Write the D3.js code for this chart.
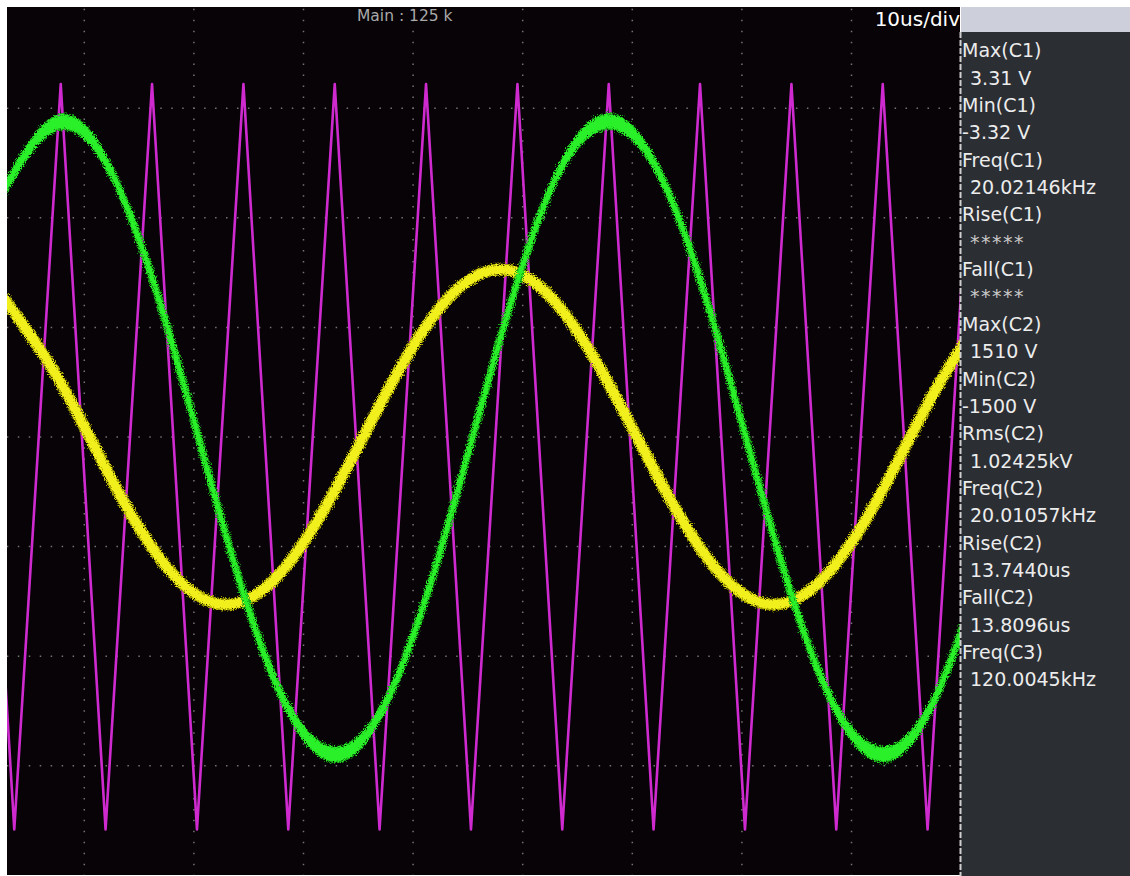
<!DOCTYPE html>
<html>
<head>
<meta charset="utf-8">
<script src="https://cdn.jsdelivr.net/npm/d3@7"></script>
<style>
  html, body { margin: 0; padding: 0; background: #ffffff; }
  svg { display: block; }
  text { font-family: "DejaVu Sans", Verdana, sans-serif; }
</style>
</head>
<body>
<svg id="scope" width="1130" height="876"></svg>
<script>
// ---- acquisition data -------------------------------------------------
// sample instants (µs) for the two sine channels
const sampleTimes = [-7.5, -2.5, 2.5, 7.5, 12.5, 17.5, 22.5, 27.5, 32.5, 37.5,
                     42.5, 47.5, 52.5, 57.5, 62.5, 67.5, 72.5, 77.5, 82.5];
// C1 (green) in volts
const c1Volts = [2.49, 3.21, 2.70, 1.15, -0.84, -2.52, -3.24, -2.72, -1.16, 0.83,
                 2.52, 3.22, 2.69, 1.13, -0.86, -2.53, -3.24, -2.70, -1.14];
// C2 (yellow) in volts
const c2Volts = [1209, 521, -366, -1113, -1435, -1207, -519, 368, 1115, 1435,
                 1206, 516, -371, -1116, -1435, -1204, -513, 375, 1123];
// C3 (magenta) triangle turning points: time (µs) and level (div)
const c3Times = [-10.48, -6.39, -2.15, 1.94, 6.18, 10.28, 14.52, 18.61, 22.85, 26.94,
                 31.18, 35.28, 39.52, 43.61, 47.85, 51.94, 56.18, 60.28, 64.52, 68.61,
                 72.85, 76.94, 81.18];
const c3Levels = [3.22, -3.58, 3.22, -3.58, 3.22, -3.58, 3.22, -3.58, 3.22, -3.58,
                  3.22, -3.58, 3.22, -3.58, 3.22, -3.58, 3.22, -3.58, 3.22, -3.58,
                  3.22, -3.58, 3.22];

// graticule
const timeTicks = [0, 10, 20, 30, 40, 50, 60, 70, 80];   // µs
const divTicks = [-3, -2, -1, 0, 1, 2, 3];                 // div
const timebaseLabel = "10us/div";
const memoryLabel = "Main : 125 k";

// measurement panel
const measNames = ["Max(C1)", "Min(C1)", "Freq(C1)", "Rise(C1)", "Fall(C1)",
                   "Max(C2)", "Min(C2)", "Rms(C2)", "Freq(C2)", "Rise(C2)",
                   "Fall(C2)", "Freq(C3)"];
const measValues = ["3.31 V", "-3.32 V", "20.02146kHz", "*****", "*****",
                    "1510 V", "-1500 V", "1.02425kV", "20.01057kHz", "13.7440us",
                    "13.8096us", "120.0045kHz"];

// channel sensitivities
const c1VoltsPerDiv = 1.12;
const c2VoltsPerDiv = 940;

// ---- layout -----------------------------------------------------------
const W = 1130, H = 876;
const plot = { left: 7, top: 7, right: 960, bottom: 875 };

const svg = d3.select("#scope");
const defs = svg.append("defs");

defs.append("clipPath").attr("id", "screen")
  .append("rect")
  .attr("x", plot.left).attr("y", plot.top)
  .attr("width", plot.right - plot.left).attr("height", plot.bottom - plot.top);

// rough phosphor edge for the noisy traces
function roughFilter(id, seed, scale) {
  const f = defs.append("filter").attr("id", id)
    .attr("filterUnits", "userSpaceOnUse")
    .attr("x", 0).attr("y", 0).attr("width", W).attr("height", H);
  f.append("feTurbulence").attr("type", "fractalNoise")
    .attr("baseFrequency", 0.9).attr("numOctaves", 2).attr("seed", seed).attr("result", "noise");
  f.append("feDisplacementMap").attr("in", "SourceGraphic").attr("in2", "noise")
    .attr("scale", scale).attr("xChannelSelector", "R").attr("yChannelSelector", "G");
}
roughFilter("fuzzY", 4, 7);
roughFilter("fuzzG", 9, 8);

const soft = defs.append("filter").attr("id", "soft")
  .attr("filterUnits", "userSpaceOnUse")
  .attr("x", 0).attr("y", 0).attr("width", W).attr("height", H);
soft.append("feGaussianBlur").attr("stdDeviation", 0.45);

const x = d3.scaleLinear().domain([0, 80]).range([84.3, 961.1]);
const y = d3.scaleLinear().domain([-4, 4]).range([875.4, -1.4]);

// screen background
svg.append("rect").attr("x", 0).attr("y", 0).attr("width", W).attr("height", H).attr("fill", "#ffffff");
svg.append("rect")
  .attr("x", plot.left).attr("y", plot.top)
  .attr("width", plot.right - plot.left).attr("height", plot.bottom - plot.top)
  .attr("fill", "#070307");

// ---- graticule (dotted) -------------------------------------------------
const minor = x(1) - x(0);
const grid = svg.append("g").attr("clip-path", "url(#screen)")
  .attr("stroke", "#747474").attr("stroke-width", 1.5)
  .attr("stroke-dasharray", `1.5 ${(minor - 1.5).toFixed(2)}`);

grid.selectAll("line.v").data(timeTicks.slice(0, -1)).join("line")
  .attr("class", "v")
  .attr("x1", d => x(d)).attr("x2", d => x(d))
  .attr("y1", y(4) - 0.75).attr("y2", y(-4));

grid.selectAll("line.h").data(divTicks).join("line")
  .attr("class", "h")
  .attr("y1", d => y(d)).attr("y2", d => y(d))
  .attr("x1", x(-8) - 0.75).attr("x2", x(80));

// ---- traces -------------------------------------------------------------
const traces = svg.append("g").attr("clip-path", "url(#screen)");

// C3 triangle
const c3 = c3Times.map((t, i) => ({ t, v: c3Levels[i] }));
traces.append("path")
  .datum(c3)
  .attr("fill", "none")
  .attr("stroke", "#cf2ccf")
  .attr("stroke-width", 2.6)
  .attr("stroke-linejoin", "round")
  .attr("filter", "url(#soft)")
  .attr("d", d3.line().x(d => x(d.t)).y(d => y(d.v)));

function drawSine(values, perDiv, color, edge, halfBand, core, filterId) {
  const pts = sampleTimes.map((t, i) => ({ t, v: values[i] / perDiv }));
  const g = traces.append("g").attr("filter", `url(#${filterId})`);
  g.append("path").datum(pts)
    .attr("fill", edge)
    .attr("d", d3.area().curve(d3.curveNatural)
      .x(d => x(d.t))
      .y0(d => y(d.v) - halfBand - 1.5)
      .y1(d => y(d.v) + halfBand + 1.5));
  g.append("path").datum(pts)
    .attr("fill", "none").attr("stroke", edge).attr("stroke-width", core + 3)
    .attr("d", d3.line().curve(d3.curveNatural).x(d => x(d.t)).y(d => y(d.v)));
  g.append("path").datum(pts)
    .attr("fill", color)
    .attr("d", d3.area().curve(d3.curveNatural)
      .x(d => x(d.t))
      .y0(d => y(d.v) - halfBand)
      .y1(d => y(d.v) + halfBand));
  g.append("path").datum(pts)
    .attr("fill", "none").attr("stroke", color).attr("stroke-width", core)
    .attr("d", d3.line().curve(d3.curveNatural).x(d => x(d.t)).y(d => y(d.v)));
}

drawSine(c2Volts, c2VoltsPerDiv, "#f2f01c", "#a8a400", 4.0, 9, "fuzzY");
drawSine(c1Volts, c1VoltsPerDiv, "#2cf02a", "#18a018", 7.0, 5, "fuzzG");

// ---- screen annotations -------------------------------------------------
svg.append("text")
  .attr("x", 357).attr("y", 21)
  .attr("font-size", 15.5).attr("fill", "#a9a9a9")
  .text(memoryLabel);

svg.append("text")
  .attr("x", 960).attr("y", 26)
  .attr("text-anchor", "end")
  .attr("font-size", 20).attr("fill", "#ffffff")
  .text(timebaseLabel);

// ---- measurement panel --------------------------------------------------
svg.append("rect").attr("x", 960).attr("y", 32).attr("width", W - 960).attr("height", H - 32)
  .attr("fill", "#2b2e33");
svg.append("rect").attr("x", 961).attr("y", 7).attr("width", W - 961).attr("height", 25)
  .attr("fill", "#cdd0da");
svg.append("line")
  .attr("x1", 960.5).attr("x2", 960.5).attr("y1", 32).attr("y2", H)
  .attr("stroke", "#cfcfcf").attr("stroke-width", 2).attr("stroke-dasharray", "6 2");

const rowStep = 27.35, firstBaseline = 57.3;
const panel = svg.append("g").attr("font-size", 19).attr("fill", "#ececec");
panel.selectAll("text.name").data(measNames).join("text")
  .attr("class", "name")
  .attr("x", 962)
  .attr("y", (d, i) => firstBaseline + rowStep * 2 * i)
  .text(d => d);
panel.selectAll("text.val").data(measValues).join("text")
  .attr("class", "val")
  .attr("x", d => d.startsWith("-") ? 962 : 970)
  .attr("y", (d, i) => firstBaseline + rowStep * (2 * i + 1))
  .attr("letter-spacing", d => d === "*****" ? 1.5 : 0)
  .attr("fill", d => d === "*****" ? "#c9c9c9" : null)
  .text(d => d);
</script>
</body>
</html>
